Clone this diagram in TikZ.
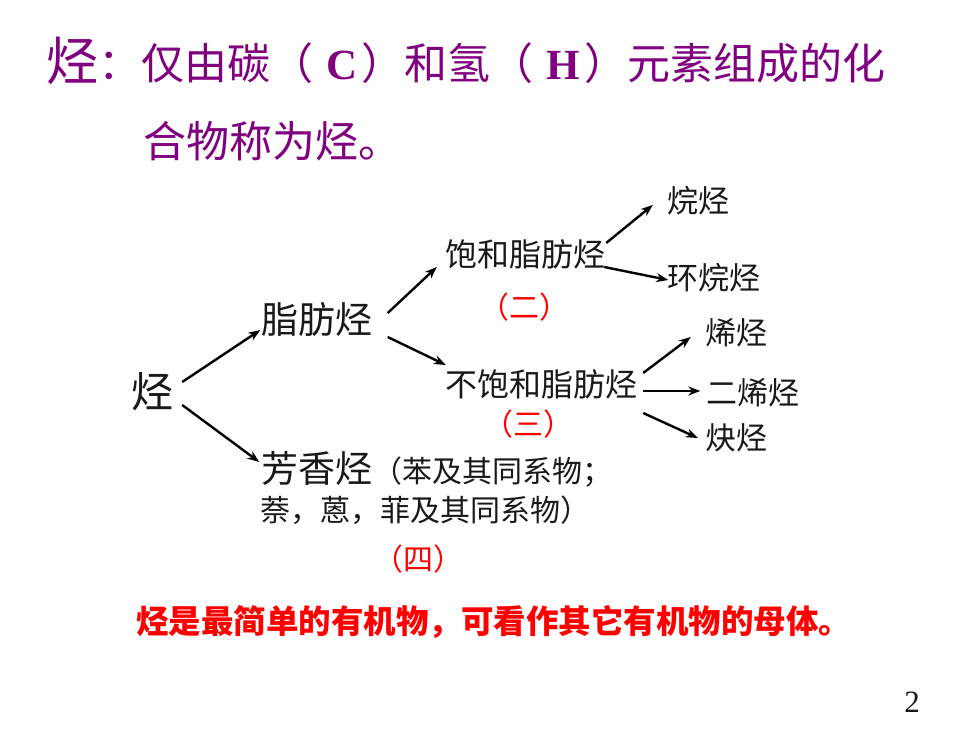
\documentclass[tikz,border=0pt]{standalone}
\usepackage{fontspec}
\setmainfont{Noto Sans CJK SC}
\newfontfamily\latinfont{Liberation Serif}
\usetikzlibrary{arrows.meta}
\definecolor{titlepurple}{RGB}{128,0,128}
\definecolor{notered}{RGB}{255,0,0}
\newcommand{\px}[1]{\fontsize{#1}{#1}\selectfont}
\newcommand{\el}[1]{\hspace{0.3em}{\latinfont\bfseries #1}\hspace{0.1em}}
\tikzset{
  word/.style={inner sep=0pt,text=black!90},
  tag/.style={inner sep=0pt,text=notered,font=\px{30}},
  arr/.style={-{Stealth[length=12pt,width=9pt]},line width=2.4pt},
}

\begin{document}
\begin{tikzpicture}[x=1pt,y=-1pt]
  \useasboundingbox (0,0) rectangle (980,735);

  % definition
  \node[word,text=titlepurple,font=\px{52}] (hc) at (72,61) {烃};
  \node[word,text=titlepurple,font=\px{43},anchor=west] (def) at (98,63)
    {：仅由碳（\el{C}）和氢（\el{H}）元素组成的化};
  \node[word,text=titlepurple,font=\px{43},anchor=west] (def2) at (143,141) {合物称为烃。};

  % classification
  \node[word,font=\px{42}] (root) at (152,392) {烃};
  \node[word,font=\px{37}] (fat) at (317,320) {脂肪烃};
  \node[word,font=\px{32}] (sat) at (525,254) {饱和脂肪烃};
  \node[word,font=\px{32}] (unsat) at (541,384) {不饱和脂肪烃};
  \node[word,font=\px{31}] (alkane) at (698,201) {烷烃};
  \node[word,font=\px{31}] (cyclo) at (714,278) {环烷烃};
  \node[word,font=\px{31}] (alkene) at (736,333) {烯烃};
  \node[word,font=\px{31}] (diene) at (753,393) {二烯烃};
  \node[word,font=\px{31}] (alkyne) at (736,438) {炔烃};
  \node[word,font=\px{37}] (arom) at (317,469) {芳香烃};
  \node[word,font=\px{30},anchor=base west] (aromA) at (arom.base east) {（苯及其同系物；};
  \node[word,font=\px{30},anchor=west] (aromB) at (260,510) {萘，蒽，菲及其同系物）};

  \node[tag] (two) at (524,307) {（二）};
  \node[tag] (three) at (528,424) {（三）};
  \node[tag] (four) at (418,559) {（四）};

  \foreach \a/\sa/\b/\sb in {root.east/{(9,-10)}/fat.west/{(-1,10)},
      root.east/{(9,13)}/arom.west/{(-2,-7)},
      fat.east/{(15,-7)}/sat.west/{(-8,13)},
      fat.east/{(15,17)}/unsat.west/{(1,-19)},
      sat.east/{(1,-11)}/alkane.west/{(-14,4)},
      sat.east/{(-1,13)}/cyclo.west/{(1,2)},
      unsat.east/{(6,-11)}/alkene.west/{(-14,4)},
      unsat.east/{(6,7)}/diene.west/{(-6,-2)},
      unsat.east/{(6,29)}/alkyne.west/{(-7,0)}} {
    \draw[arr] ([shift=\sa]\a) -- ([shift=\sb]\b);
  }

  \node[word,text=notered,font=\px{32.5}\bfseries,anchor=west] (note) at (136,622)
    {烃是最简单的有机物，可看作其它有机物的母体。};
  \node[word,font=\latinfont\px{31}] (page) at (912,702) {2};
\end{tikzpicture}
\end{document}
